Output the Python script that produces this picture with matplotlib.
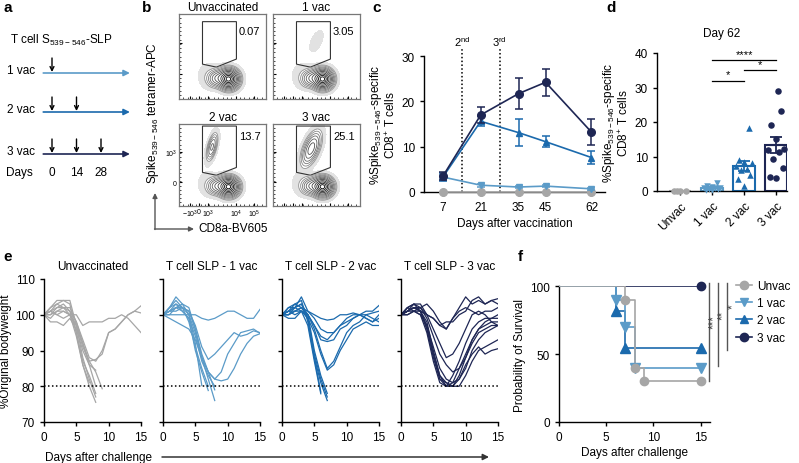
import matplotlib
matplotlib.use('Agg')
import matplotlib.pyplot as plt
from matplotlib.patches import Polygon
import numpy as np

plt.rcParams['font.family'] = ['Liberation Sans', 'DejaVu Sans']
plt.rcParams['font.size'] = 8.5
plt.rcParams['axes.linewidth'] = 1.0
plt.rcParams['xtick.major.width'] = 1.0
plt.rcParams['ytick.major.width'] = 1.0
plt.rcParams['xtick.major.size'] = 3
plt.rcParams['ytick.major.size'] = 3
plt.rcParams['mathtext.default'] = 'regular'

W, H = 799, 464

# ---- data ----
groups = ['Unvac', '1 vac', '2 vac', '3 vac']
colors = ['#a6a6a6', '#5b9bc8', '#1b6aad', '#1e2654']
markers = ['o', 'v', '^', 'o']

# a: vaccination schedule
vac_rows = ['1 vac', '2 vac', '3 vac']
vac_days = [0, 14, 28]

# b: flow cytometry
flow_titles = ['Unvaccinated', '1 vac', '2 vac', '3 vac']
flow_freq = ['0.07', '3.05', '13.7', '25.1']
flow_xticklabels = ['$-10^3$', '0', '$10^3$', '$10^4$', '$10^5$']
flow_yticklabels = ['0', '$10^3$']
tet_weight = [0.0, 0.02, 0.2, 0.32]
tet_spread = [(0.5, 0.68, 0.05, 0.07), (0.5, 0.68, 0.05, 0.08),
              (0.38, 0.72, 0.035, 0.09), (0.44, 0.70, 0.06, 0.11)]

# c: kinetics
c_days = [7, 21, 35, 45, 62]
c_mean = {
    'Unvac': [0, 0, 0, 0, 0],
    '1 vac': [3.3, 1.5, 1.1, 1.3, 0.7],
    '2 vac': [3.3, 15.6, 13.1, 11.1, 7.6],
    '3 vac': [3.5, 17.0, 21.7, 24.2, 13.2],
}
c_sem = {
    'Unvac': [0, 0, 0, 0, 0],
    '1 vac': [0.4, 0.3, 0.2, 0.3, 0.2],
    '2 vac': [0.8, 1.1, 2.9, 1.2, 1.5],
    '3 vac': [0.9, 1.8, 3.5, 3.0, 2.9],
}
boost_days = [14, 28]
boost_labels = ['2$^{nd}$', '3$^{rd}$']

# d: day 62
d_values = {
    'Unvac': [0.05, 0.12, 0.08, 0.1],
    '1 vac': [0.3, 0.5, 0.8, 1.0, 1.2, 0.6, 1.5, 2.2, 0.4, 0.9],
    '2 vac': [18.3, 9.1, 8.4, 8.0, 7.2, 6.5, 6.0, 4.7, 3.6, 1.4],
    '3 vac': [29.0, 23.3, 19.2, 15.2, 12.3, 11.8, 11.3, 9.3, 6.7, 4.1, 3.8],
}
d_sig = [('1 vac', '2 vac', '*', 32), ('1 vac', '3 vac', '****', 38), ('2 vac', '3 vac', '*', 35)]

# e: body weight per mouse (day 0 onwards, stops at death)
e_titles = ['Unvaccinated', 'T cell SLP - 1 vac', 'T cell SLP - 2 vac', 'T cell SLP - 3 vac']
weights = {
    'Unvac': [
        [100, 101, 100, 101, 100, 100, 97, 98, 98, 98, 99, 99, 100, 99, 97, 95],
        [100, 102, 103, 102, 102, 98, 93, 88, 87, 90, 95, 96, 98, 100, 101, 102.5],
        [100, 100, 101, 101, 100, 97, 92, 87, 87.5, 89, 95, 96, 98, 100, 101, 100.5],
        [100, 101, 100, 99, 100, 94, 86, 81],
        [100, 102, 104, 104, 103, 95, 86, 80, 75.5],
        [100, 101, 103, 104, 104, 97, 88, 82, 77],
        [100, 99, 101, 102, 101, 95, 87, 83, 78],
        [100, 98, 98, 97, 99, 96, 90, 86, 84.5],
        [100, 100, 102, 103, 101, 98, 92, 86, 80],
        [100, 101, 102, 102, 100, 97, 91, 87, 84, 79.3],
    ],
    '1 vac': [
        [100, 100, 100, 100, 100, 100, 99, 98.5, 99, 100, 101, 101, 100, 99, 99, 101.5],
        [100, 101, 103, 102, 101, 97, 91, 87.5, 89, 91, 93, 95, 94, 94.5, 95.5, 95],
        [100, 102, 105, 103, 102, 96, 88, 84, 82, 84, 89, 92, 95, 95.5, 96, 94.8],
        [100, 99, 98, 97, 96, 93, 88, 84, 82, 81.5, 82, 85, 89, 92, 94, 94.7],
        [100, 101, 102, 102, 100, 92, 80.2],
        [100, 102, 103, 101, 99, 90, 84, 78.8],
        [100, 101, 101, 102, 98, 91, 85, 80],
        [100, 100, 102, 103, 100, 95, 88, 82, 76],
        [100, 101, 102, 101, 99, 94, 87, 83, 80],
        [100, 102, 104, 102, 101, 96, 89, 84, 79],
    ],
    '2 vac': [
        [100, 101, 102, 105, 101, 100, 99, 98.5, 98.8, 100, 100, 100.5, 100, 101, 101, 102.6],
        [100, 101, 100, 101, 100, 97, 94, 93, 95, 97, 99, 100, 100, 100, 100.5, 101],
        [100, 100, 101, 102, 100, 97, 93, 92.5, 93, 96, 97, 99, 100, 99, 98, 100],
        [100, 99, 99, 101, 100, 96, 90, 85, 87, 91, 95, 97, 98, 100, 99, 98],
        [100, 100, 101, 101, 99, 95, 89, 84.5, 86, 90, 93, 96, 97, 98, 97, 97],
        [100, 102, 103, 102, 101, 99, 96, 95, 95, 97, 98, 99, 100, 99, 98, 99],
        [100, 101, 102, 103, 99, 88, 78.4],
        [100, 100, 102, 101, 97, 87, 77.9],
        [100, 101, 103, 104, 98, 88, 81, 76],
        [100, 102, 102, 103, 100, 90, 83, 78],
        [100, 101, 101, 102, 99, 89, 82, 77],
    ],
    '3 vac': [
        [100, 102, 103, 102, 103, 101, 98, 96, 99, 102, 105, 103, 104, 103, 104, 104.5],
        [100, 101, 103, 103, 100, 99, 97, 98, 98, 100, 101, 104, 105, 103, 104, 103],
        [100, 101, 102, 101, 100, 99, 97, 96, 99, 101, 102, 101, 100, 101, 101, 102],
        [100, 101, 102, 102, 100, 96, 92, 88, 89, 92, 96, 100, 101, 100, 98, 97],
        [100, 100, 101, 101, 98, 90, 83, 80, 83, 87, 92, 96, 98, 99, 99, 100],
        [100, 101, 102, 101, 97, 89, 82, 80, 81, 85, 89, 93, 96, 97, 98, 98],
        [100, 102, 103, 101, 96, 88, 82, 81, 80, 83, 88, 92, 95, 96, 97, 97],
        [100, 100, 101, 100, 95, 87, 81, 80, 80, 82, 85, 90, 93, 95, 96, 97],
        [100, 101, 102, 101, 96, 89, 83, 81, 80, 80, 83, 87, 90, 91, 92, 93],
        [100, 101, 101, 100, 97, 91, 85, 82, 81, 82, 86, 89, 91, 89, 90, 90.5],
        [100, 102, 101, 102, 99, 94, 89, 86, 84, 85, 88, 93, 96, 98, 99, 99],
    ],
}

# f: survival
km_times = {
    'Unvac': [0, 7, 8, 9, 15],
    '1 vac': [0, 6, 7, 8, 15],
    '2 vac': [0, 6, 7, 15],
    '3 vac': [0, 15],
}
km_surv = {
    'Unvac': [100, 90, 40, 30, 30],
    '1 vac': [100, 90, 70, 40, 40],
    '2 vac': [100, 81.8, 54.5, 54.5],
    '3 vac': [100, 100],
}
f_sig = [('***', 30), ('**', 41), ('*', 53)]


def rect(l, t, r, b):
    return [l / W, 1 - b / H, (r - l) / W, (b - t) / H]


def clean(ax):
    ax.spines['top'].set_visible(False)
    ax.spines['right'].set_visible(False)


fig = plt.figure(figsize=(W / 100, H / 100), dpi=100)

for lab, x, y in [('a', 3, 8), ('b', 142, 8), ('c', 372, 8), ('d', 606, 8),
                  ('e', 3, 257), ('f', 518, 257)]:
    fig.text(x / W, 1 - y / H, lab, fontsize=11, fontweight='bold', va='center')

# ---------------- panel a ----------------
axa = fig.add_axes(rect(0, 0, 140, 200))
axa.set_xlim(-52 / 1.75, 88 / 1.75)
axa.set_ylim(200, 0)
axa.axis('off')
axa.text(-24, 40, 'T cell S$_{539-546}$-SLP', va='center', fontsize=8.5)
row_y = [74, 113, 155]
for i, name in enumerate(vac_rows):
    y = row_y[i]
    axa.text(-25.7, y - 3, name, va='center', fontsize=8.5)
    axa.annotate('', xy=(44.5, y), xytext=(-5, y),
                 arrowprops=dict(arrowstyle='-|>', color=colors[i + 1], lw=1.2,
                                 mutation_scale=9, shrinkA=0, shrinkB=0))
    for d in vac_days[:i + 1]:
        axa.annotate('', xy=(d, y - 1), xytext=(d, y - 15),
                     arrowprops=dict(arrowstyle='->', color='black', lw=1.0,
                                     mutation_scale=7, shrinkA=0, shrinkB=0))
axa.text(-26.3, 173, 'Days', va='center', fontsize=8.5)
for d in vac_days:
    axa.text(d, 173, str(d), va='center', ha='center', fontsize=8.5)

# ---------------- panel b ----------------
g = np.linspace(0, 1, 240)
gx, gy = np.meshgrid(g, g)


def gauss(cx, cy, sx, sy, rho):
    dx = (gx - cx) / sx
    dy = (gy - cy) / sy
    return np.exp(-(dx ** 2 - 2 * rho * dx * dy + dy ** 2) / (2 * (1 - rho ** 2)))


base = (gauss(0.57, 0.235, 0.062, 0.062, 0.0)
        + 0.22 * gauss(0.43, 0.245, 0.055, 0.055, 0.1)
        + 0.025 * gauss(0.34, 0.27, 0.07, 0.085, 0.0))
levels = [0.03, 0.05, 0.08, 0.12, 0.18, 0.26, 0.36, 0.5, 0.65, 0.8, 0.93]
lcols = plt.cm.Greys(np.linspace(0.5, 1.0, len(levels)))

boxes = [(179, 15, 266, 100), (273, 15, 360, 100), (179, 125, 266, 207), (273, 125, 360, 207)]
flow_xt = [0.125, 0.23, 0.33, 0.66, 0.86]
flow_yt = [0.29, 0.66]
for k in range(4):
    ax = fig.add_axes(rect(*boxes[k]))
    cx, cy, sx, sy = tet_spread[k]
    dens = base + tet_weight[k] * gauss(cx, cy, sx, sy, 0.55)
    ax.contourf(gx, gy, dens, levels=[0.006, 0.03], colors=['#e2e2e2'])
    ax.contour(gx, gy, dens, levels=levels, colors=lcols, linewidths=0.6)
    top = 0.91 if k < 2 else 0.975
    gate = [(0.27, top), (0.66, top), (0.66, 0.47), (0.43, 0.375), (0.27, 0.41)]
    ax.add_patch(Polygon(gate, closed=True, fill=False, ec='#333333', lw=0.8))
    ax.text(0.69, 0.8 if k < 2 else 0.85, flow_freq[k], fontsize=8, va='center')
    ax.set_xlim(0, 1)
    ax.set_ylim(0, 1)
    for s in ax.spines.values():
        s.set_color('#777777')
        s.set_linewidth(0.9)
    ax.set_xticks(flow_xt)
    ax.set_yticks(flow_yt)
    ax.set_xticks(np.linspace(0.05, 0.95, 19), minor=True)
    ax.set_yticks(np.linspace(0.05, 0.95, 19), minor=True)
    ax.tick_params(which='major', direction='in', length=2.5, width=0.8, labelsize=5, pad=1.5)
    ax.tick_params(which='minor', direction='in', length=1.2, width=0.5)
    if k == 2:
        ax.set_xticklabels(flow_xticklabels)
        ax.set_yticklabels(flow_yticklabels)
    else:
        ax.set_xticklabels([])
        ax.set_yticklabels([])
    bx = boxes[k]
    fig.text((bx[0] + bx[2]) / 2 / W, 1 - (bx[1] - 7) / H, flow_titles[k],
             ha='center', va='center', fontsize=8.5)

fig.text(153 / W, 1 - 113 / H, 'Spike$_{539-546}$ tetramer-APC', rotation=90,
         ha='center', va='center', fontsize=8.5)
fig.text(198 / W, 1 - 229 / H, 'CD8a-BV605', ha='left', va='center', fontsize=8.5)
axarr = fig.add_axes(rect(140, 180, 200, 240))
axarr.set_xlim(140, 200)
axarr.set_ylim(240, 180)
axarr.axis('off')
axarr.annotate('', xy=(155, 194), xytext=(155, 230.5),
               arrowprops=dict(arrowstyle='-|>', color='#555555', lw=1.0, mutation_scale=7,
                               shrinkA=0, shrinkB=0))
axarr.annotate('', xy=(194, 230), xytext=(154.5, 230),
               arrowprops=dict(arrowstyle='-|>', color='#555555', lw=1.0, mutation_scale=7,
                               shrinkA=0, shrinkB=0))

# ---------------- panel c ----------------
axc = fig.add_axes(rect(424, 57, 605, 193))
clean(axc)
order = ['Unvac', '1 vac', '2 vac', '3 vac']
for i, gname in enumerate(order):
    axc.errorbar(c_days, c_mean[gname], yerr=c_sem[gname], color=colors[i], marker=markers[i],
                 ms=5.5 if markers[i] == 'o' else 5, lw=1.2, elinewidth=1.1, capsize=3,
                 capthick=1.1, clip_on=False, zorder=3 + i)
for d, lab in zip(boost_days, boost_labels):
    axc.plot([d, d], [0, 31.6], ls=(0, (1, 1.5)), color='black', lw=1.1, clip_on=False)
    axc.text(d, 33.3, lab, ha='center', va='center', fontsize=8)
axc.set_xlim(0, 67)
axc.set_ylim(0, 30)
axc.set_xticks(c_days)
axc.set_yticks([0, 10, 20, 30])
axc.set_xlabel('Days after vaccination', labelpad=3)
axc.set_ylabel('%Spike$_{539-546}$-specific\nCD8$^{+}$ T cells', labelpad=3, linespacing=1.0)

# ---------------- panel d ----------------
axd = fig.add_axes(rect(657, 54, 787, 192))
clean(axd)
for i, gname in enumerate(groups):
    vals = np.array(d_values[gname])
    n = len(vals)
    mean = vals.mean()
    sem = vals.std(ddof=1) / np.sqrt(n)
    axd.bar(i, mean, width=0.68, facecolor='white', edgecolor=colors[i], lw=1.5, zorder=2)
    idx = np.argsort(vals)
    offs = np.zeros(n)
    pattern = [0, -0.2, 0.2, -0.1, 0.1, -0.25, 0.25, 0.0, -0.15, 0.15, 0.05]
    for j, ii in enumerate(idx):
        offs[ii] = pattern[j % len(pattern)]
    axd.scatter(i + offs, vals, marker=markers[i], s=22, color=colors[i], zorder=4,
                clip_on=False, linewidths=0)
    axd.errorbar(i, mean, yerr=sem, color=colors[i], capsize=4, elinewidth=1.3,
                 capthick=1.3, zorder=3)
    axd.plot([i - 0.17, i + 0.17], [mean, mean], color=colors[i], lw=1.5, zorder=3)
for g1, g2, txt, y in d_sig:
    x1, x2 = groups.index(g1), groups.index(g2)
    axd.plot([x1, x2], [y, y], color='black', lw=0.9)
    axd.text((x1 + x2) / 2, y + 0.3, txt, ha='center', va='bottom', fontsize=8)
axd.set_xlim(-0.72, 3.34)
axd.set_ylim(0, 40)
axd.set_yticks([0, 10, 20, 30, 40])
axd.set_xticks(range(4))
axd.set_xticklabels(groups, rotation=45, ha='right', rotation_mode='anchor')
axd.set_title('Day 62', fontsize=8.5, pad=12)
axd.set_ylabel('%Spike$_{539-546}$-specific\nCD8$^{+}$ T cells', labelpad=3, linespacing=1.0)

# ---------------- panel e ----------------
e_left = [44, 163, 282, 401]
for k, gname in enumerate(groups):
    ax = fig.add_axes(rect(e_left[k], 280, e_left[k] + 97, 423))
    clean(ax)
    for w in weights[gname]:
        ax.plot(range(len(w)), w, color=colors[k], lw=0.9)
    ax.plot([0, 15], [80, 80], ls=(0, (1, 1.6)), color='black', lw=1.1)
    ax.set_xlim(0, 15)
    ax.set_ylim(70, 110)
    ax.set_xticks([0, 5, 10, 15])
    ax.set_yticks([70, 80, 90, 100, 110])
    if k == 0:
        ax.set_ylabel('%Original bodyweight', labelpad=2)
    else:
        ax.set_yticklabels([])
    ax.set_title(e_titles[k], fontsize=8.5, pad=7)

fig.text(45 / W, 1 - 458 / H, 'Days after challenge', va='center', fontsize=8.5)
axl = fig.add_axes(rect(150, 450, 495, 466))
axl.set_xlim(150, 495)
axl.set_ylim(466, 450)
axl.axis('off')
axl.annotate('', xy=(489, 458), xytext=(162, 458),
             arrowprops=dict(arrowstyle='-|>', color='#333333', lw=1.1, mutation_scale=9,
                             shrinkA=0, shrinkB=0))

# ---------------- panel f ----------------
axf = fig.add_axes(rect(559, 287, 710, 423))
clean(axf)
handles = []
for i in [3, 2, 1, 0]:
    gname = groups[i]
    t = km_times[gname]
    s = km_surv[gname]
    axf.step(t, s, where='post', color=colors[i], lw=1.2, zorder=2 + (3 - i))
    axf.plot(t[1:], s[1:], ls='none', marker=markers[i], ms=6 if markers[i] == 'o' else 6.5,
             color=colors[i], clip_on=False, zorder=6 + (3 - i))
for i, gname in enumerate(groups):
    h, = axf.plot([], [], color=colors[i], marker=markers[i], ms=6, lw=1.2, label=gname)
    handles.append(h)
axf.legend(handles=handles, loc='upper left', bbox_to_anchor=(1.14, 1.08), frameon=False,
           handlelength=1.4, handletextpad=0.4, labelspacing=0.45, fontsize=8.5,
           borderaxespad=0)
sig_x = [15.85, 16.85, 17.85]
for (txt, ylo), x in zip(f_sig, sig_x):
    axf.plot([x, x], [102, ylo], color='#555555', lw=1.0, clip_on=False)
    axf.text(x + 0.6, (102 + ylo) / 2 + 8, txt, rotation=90, ha='center', va='center',
             fontsize=8.5, color='#444444')
axf.set_xlim(0, 16)
axf.set_ylim(0, 100)
axf.set_xticks([0, 5, 10, 15])
axf.set_yticks([0, 50, 100])
axf.set_xlabel('Days after challenge', labelpad=2)
axf.set_ylabel('Probability of Survival', labelpad=3)

plt.savefig('out.png', dpi=100)
